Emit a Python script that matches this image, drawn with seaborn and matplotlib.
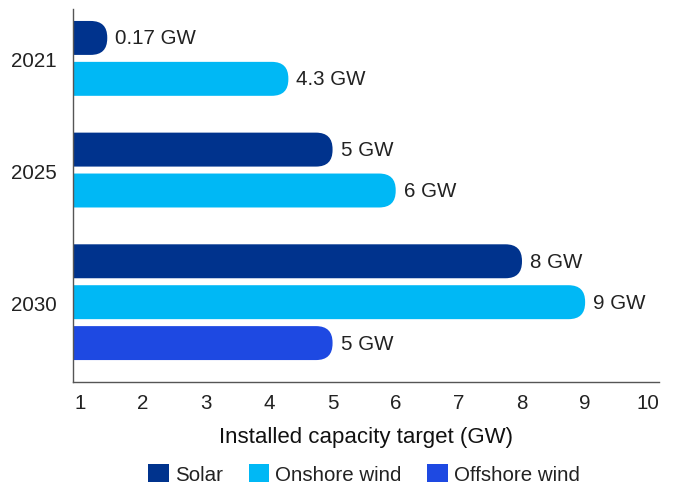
import matplotlib
matplotlib.use("Agg")
import matplotlib.pyplot as plt
from matplotlib.patches import FancyBboxPatch, Patch
import seaborn as sns
import pandas as pd

# ---- data ----
years = ["2021", "2025", "2030"]
series = ["Solar", "Onshore wind", "Offshore wind"]
solar = [0.17, 5, 8]
onshore = [4.3, 6, 9]
offshore = [None, None, 5]
xticks = [1, 2, 3, 4, 5, 6, 7, 8, 9, 10]
xlabel = "Installed capacity target (GW)"
colors = ["#00338D", "#00B8F5", "#1E49E2"]

# ---- build table ----
GAP = 0.73
rows = []
group_centers = []
start = 0.0
for i, yr in enumerate(years):
    vals = [solar[i], onshore[i], offshore[i]]
    k = 0
    for s, v in zip(series, vals):
        if v is None:
            continue
        rows.append({"year": yr, "series": s, "value": v, "pos": start + k})
        k += 1
    group_centers.append(start + (k - 1) / 2)
    start = start + k + GAP
df = pd.DataFrame(rows)

sns.set_style("white")
plt.rcParams["font.family"] = ["Liberation Sans", "DejaVu Sans"]
TXT = "#222222"
FS = 14.8

W, H = 675, 485
fig = plt.figure(figsize=(W / 100, H / 100), dpi=100)
ax = fig.add_axes([73.3 / W, 1 - 383 / H, (659 - 73.3) / W, (383 - 10) / H])

BAR_H = 0.83
sns.barplot(data=df, x="value", y="pos", hue="series", hue_order=series,
            palette=colors, orient="h", native_scale=True, dodge=False,
            width=BAR_H, legend=False, ax=ax, linewidth=0, saturation=1)

xlim = (0.894, 10.17)
ymax = df["pos"].max()
ylim = (ymax + 39 / 41, -29 / 41)
ax.set_xlim(*xlim)
ax.set_ylim(*ylim)

ax_w_px = (659 - 73.3)
ax_h_px = (383 - 10)
px_x = ax_w_px / (xlim[1] - xlim[0])
px_y = ax_h_px / (ylim[0] - ylim[1])

r_px = 16.5
r_x = r_px / px_x
r_y = r_px / px_y
bar_h_x = BAR_H * px_y / px_x

for p in list(ax.patches):
    y = p.get_y()
    h = p.get_height()
    w = p.get_width()
    fc = p.get_facecolor()
    p.remove()
    end = max(w, xlim[0] + bar_h_x)
    left = xlim[0] - r_x - 0.05
    box = FancyBboxPatch((left, y), end - left, h,
                         boxstyle=f"round,pad=0,rounding_size={r_x}",
                         mutation_aspect=r_y / r_x, facecolor=fc,
                         edgecolor="none", zorder=2)
    ax.add_patch(box)
    ax.annotate(f"{w:g} GW", xy=(end, y + h / 2), xytext=(8, 0),
                textcoords="offset pixels", ha="left", va="center",
                fontsize=FS, color=TXT)

ax.set_xticks(xticks)
ax.set_xticklabels([str(t) for t in xticks])
ax.set_yticks(group_centers)
ax.set_yticklabels(years)
ax.tick_params(axis="both", length=0, labelsize=FS, colors=TXT)
ax.tick_params(axis="x", pad=8)
ax.tick_params(axis="y", pad=12)
ax.set_xlabel(xlabel, fontsize=16, color="#111111", labelpad=10)
ax.set_ylabel("")

for side in ["top", "right"]:
    ax.spines[side].set_visible(False)
for side in ["left", "bottom"]:
    ax.spines[side].set_color("#555555")
    ax.spines[side].set_linewidth(1.0)
    ax.spines[side].set_zorder(3)

handles = [Patch(facecolor=c, edgecolor="none", label=s) for c, s in zip(colors, series)]
fig.legend(handles=handles, loc="center", bbox_to_anchor=(364 / W, 1 - 475 / H),
           ncol=3, frameon=False, fontsize=FS, handlelength=1.0, handleheight=1.0,
           handletextpad=0.3, columnspacing=1.25, labelcolor=TXT, borderaxespad=0,
           borderpad=0)

fig.savefig("out.png", dpi=100)
